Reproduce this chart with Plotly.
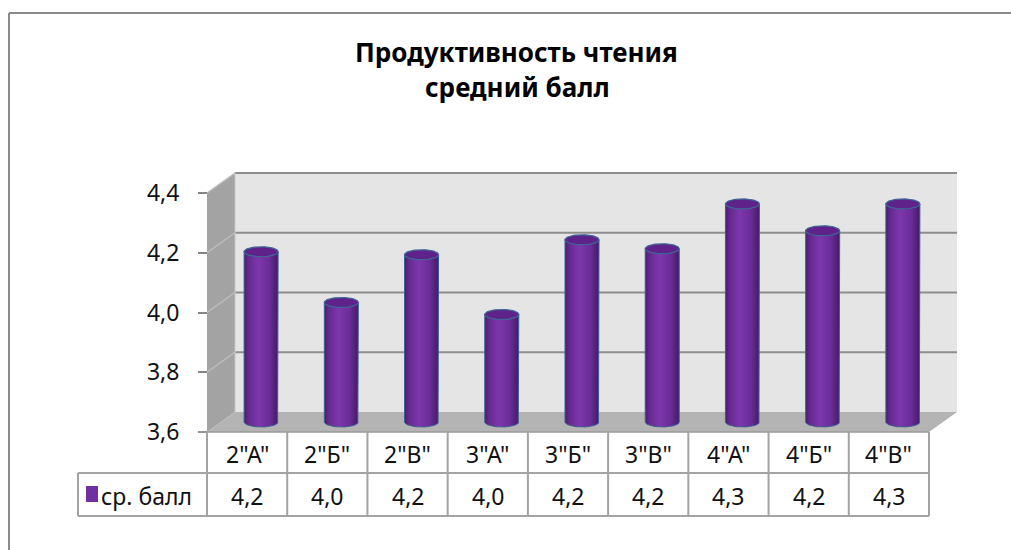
import numpy as np
import plotly.graph_objects as go

# ---------------- data ----------------
categories = ['2"А"', '2"Б"', '2"В"', '3"А"', '3"Б"', '3"В"', '4"А"', '4"Б"', '4"В"']
scores = [4.17, 4.00, 4.16, 3.96, 4.21, 4.18, 4.33, 4.24, 4.33]
y_ticks = [3.6, 3.8, 4.0, 4.2, 4.4]
series_name = "ср. балл"
title_lines = ["Продуктивность чтения", "средний балл"]

# ---------------- layout geometry (viewport pixels) ----------------
VW, VH = 1011, 550
OFF = 0                                # page margin removed by post_script
FW, FH = VW - 2 * OFF, VH - 2 * OFF    # figure size
PX_LEFT, PX_RIGHT = 207, 929           # front plane, left/right (px)
PY_BASE, PY_TOP = 432, 193             # front plane, min/max value (px)
DEPTH_PX_X, DEPTH_PX_Y = 28, 20        # oblique depth offset (px)
ncat = len(categories)
cat_px = (PX_RIGHT - PX_LEFT) / ncat
vmin, vmax = y_ticks[0], y_ticks[-1]
val_px = (PY_BASE - PY_TOP) / (vmax - vmin)


def X(px):
    return -0.5 + (px - PX_LEFT) / cat_px


def Y(py):
    return vmin + (PY_BASE - py) / val_px


def PXX(px):
    return (px - OFF) / FW


def PXY(py):
    return 1 - (py - OFF) / FH


DX = DEPTH_PX_X / cat_px
DY = DEPTH_PX_Y / val_px
XL, XR = -0.5, ncat - 0.5

FONT = "Noto Sans"
PURPLE = "#7030A0"
GRID = "#8e8e8e"
TABLE_LINE = "#a3a3a3"
TXT = "#111111"

shapes = []


def poly(pts, fill, line=None, width=0, layer="below"):
    d = "M " + " L ".join(f"{x},{y}" for x, y in pts) + " Z"
    shapes.append(dict(type="path", xref="x", yref="y", path=d, fillcolor=fill,
                       line=dict(color=line or fill, width=width), layer=layer))


def seg(x0, y0, x1, y1, color, width, layer="below"):
    shapes.append(dict(type="line", xref="x", yref="y", x0=x0, y0=y0, x1=x1, y1=y1,
                       line=dict(color=color, width=width), layer=layer))


# back wall
poly([(XL + DX, vmin + DY), (XR + DX, vmin + DY), (XR + DX, vmax + DY), (XL + DX, vmax + DY)], "#e5e5e5")
# side wall
poly([(XL, vmin), (XL, vmax), (XL + DX, vmax + DY), (XL + DX, vmin + DY)], "#a3a3a3")
# floor
poly([(XL, vmin), (XR, vmin), (XR + DX, vmin + DY), (XL + DX, vmin + DY)], "#b4b4b4")

# gridlines on back wall and side wall
for t in y_ticks[1:]:
    seg(XL + DX, t + DY, XR + DX, t + DY, GRID, 2)
    seg(XL, t, XL + DX, t + DY, "#bdbdbd", 1.5)
seg(XL + DX, vmin + DY, XL + DX, vmax + DY, "#c8c8c8", 1)

# ---------------- cylinders ----------------
traces = []
half_w = 17 / cat_px
ry = 5 / val_px
t_low = np.linspace(np.pi, 2 * np.pi, 40)
t_full = np.linspace(0, 2 * np.pi, 80)
for i, v in enumerate(scores):
    xc = i + DX / 2
    yb = vmin + DY / 2
    yt = v + DY / 2
    xs = [xc - half_w, xc - half_w]
    ys = [yb, yt]
    xs += list(xc + half_w * np.cos(t_low))
    ys += list(yt + ry * np.sin(t_low))
    xs += [xc + half_w, xc + half_w]
    ys += [yt, yb]
    xs += list(xc + half_w * np.cos(t_low[::-1]))
    ys += list(yb + ry * np.sin(t_low[::-1]))
    traces.append(go.Scatter(
        x=xs, y=ys, mode="lines", fill="toself",
        line=dict(color="#3c5e92", width=1),
        fillgradient=dict(type="horizontal",
                          colorscale=[[0, "#4a1c6c"], [0.12, "#64298f"], [0.42, "#7d37ad"],
                                      [0.75, "#6a2c98"], [1, "#451a65"]]),
        hoverinfo="skip", showlegend=False))
    traces.append(go.Scatter(
        x=list(xc + half_w * np.cos(t_full)), y=list(yt + ry * np.sin(t_full)),
        mode="lines", fill="toself", fillcolor="#5e228a",
        line=dict(color="#3f6496", width=1.2),
        hoverinfo="skip", showlegend=False))

# ---------------- data table ----------------
ROW1_TOP, ROW1_BOT, ROW2_BOT = 432, 473, 516
TABLE_LEFT = 78
annotations = []
seg(X(PX_LEFT - 9), vmin, XR, vmin, "#9a9a9a", 1.5, "above")
seg(X(TABLE_LEFT), Y(ROW1_BOT), XR, Y(ROW1_BOT), TABLE_LINE, 2, "above")
seg(X(TABLE_LEFT), Y(ROW2_BOT), XR, Y(ROW2_BOT), TABLE_LINE, 2, "above")
seg(X(TABLE_LEFT), Y(ROW1_BOT), X(TABLE_LEFT), Y(ROW2_BOT), TABLE_LINE, 2, "above")
for k in range(ncat + 1):
    seg(k - 0.5, vmin, k - 0.5, Y(ROW2_BOT), TABLE_LINE, 2, "above")

TFS = 23
for i, (c, v) in enumerate(zip(categories, scores)):
    annotations.append(dict(x=i, y=Y((ROW1_TOP + ROW1_BOT) / 2 + 1), xref="x", yref="y", text=c,
                            yanchor="middle", showarrow=False, font=dict(family=FONT, size=TFS, color=TXT)))
    annotations.append(dict(x=i, y=Y((ROW1_BOT + ROW2_BOT) / 2 + 1), xref="x", yref="y",
                            text=f"{v:.1f}".replace(".", ","), yanchor="middle",
                            showarrow=False, font=dict(family=FONT, size=TFS, color=TXT)))

# legend key inside the table
shapes.append(dict(type="rect", xref="x", yref="y", x0=X(86), x1=X(98), y0=Y(486), y1=Y(502),
                   fillcolor=PURPLE, line=dict(width=0), layer="above"))
annotations.append(dict(x=X(99), y=Y((ROW1_BOT + ROW2_BOT) / 2 + 1), xref="x", yref="y",
                        text=series_name, xanchor="left", yanchor="middle", showarrow=False,
                        font=dict(family=FONT, size=TFS, color=TXT)))

# title
annotations.append(dict(x=PXX(516), y=PXY(52), xref="paper", yref="paper",
                        text="<b>" + title_lines[0] + "</b>", showarrow=False,
                        xanchor="center", yanchor="middle",
                        font=dict(family=FONT, size=26, color="#000")))
annotations.append(dict(x=PXX(517), y=PXY(87), xref="paper", yref="paper",
                        text="<b>" + title_lines[1] + "</b>", showarrow=False,
                        xanchor="center", yanchor="middle",
                        font=dict(family=FONT, size=26, color="#000")))

# chart border (top and left edges visible)
shapes.append(dict(type="line", xref="paper", yref="paper", x0=PXX(9), x1=1.2, y0=PXY(13), y1=PXY(13),
                   line=dict(color="#8a8a8a", width=2), layer="above"))
shapes.append(dict(type="line", xref="paper", yref="paper", x0=PXX(9), x1=PXX(9), y0=-0.2, y1=PXY(13),
                   line=dict(color="#8a8a8a", width=2), layer="above"))

fig = go.Figure(traces)
fig.update_layout(
    width=FW, height=FH, autosize=False,
    margin=dict(l=0, r=0, t=0, b=0),
    paper_bgcolor="white", plot_bgcolor="white",
    separators=", ",
    shapes=shapes, annotations=annotations,
    showlegend=False,
    xaxis=dict(range=[X(OFF), X(OFF + FW)], domain=[0, 1], visible=False, fixedrange=True),
    yaxis=dict(range=[Y(OFF + FH), Y(OFF)], domain=[0, 1], anchor="free", position=PXX(PX_LEFT),
               tickvals=y_ticks, tickformat=".1f", ticks="outside", ticklen=9,
               tickcolor="#868686", tickwidth=1.5, showgrid=False, zeroline=False,
               showline=False, ticklabelstandoff=14,
               tickfont=dict(family=FONT, size=23, color=TXT), fixedrange=True),
)
fig.write_html("out.html", config={"displayModeBar": False},
               post_script="document.body.style.margin='0';document.body.style.overflow='hidden';")
